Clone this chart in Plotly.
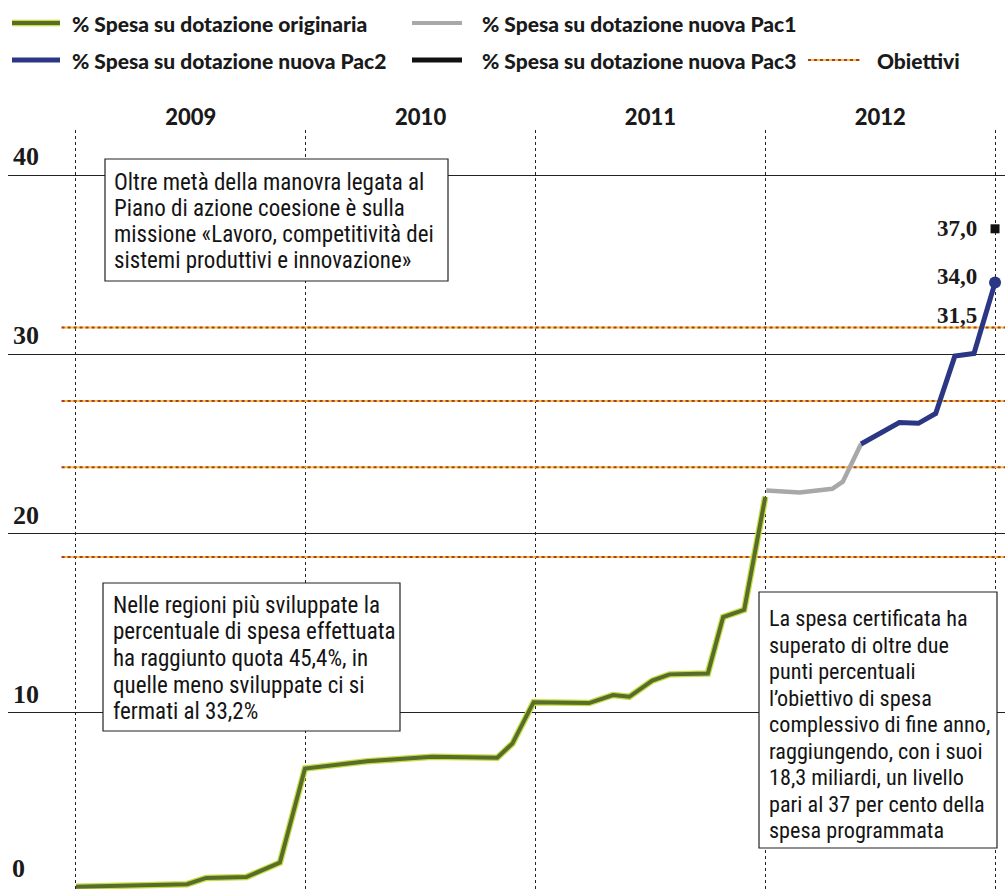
import plotly.graph_objects as go

# ---------------- data (months from Jan 2009, % spesa) ----------------
months_orig = [0, 3, 5.8, 6.8, 8.9, 10.65, 11.96, 15.2, 18.6, 22, 22.8, 23.9, 26.8, 28.05, 28.9, 30.1, 31, 33, 33.8, 34.9, 36]
spesa_orig = [0.3, 0.4, 0.45, 0.8, 0.85, 1.65, 6.9, 7.3, 7.55, 7.5, 8.3, 10.6, 10.55, 11.0, 10.9, 11.8, 12.15, 12.2, 15.35, 15.75, 22.05]
months_pac1 = [36.05, 37.8, 39.5, 40.05, 41.0]
spesa_pac1 = [22.4, 22.3, 22.5, 22.9, 25.0]
months_pac2 = [41.0, 43.0, 44.0, 44.9, 45.9, 46.9, 48]
spesa_pac2 = [25.0, 26.2, 26.15, 26.7, 29.9, 30.05, 34.0]
months_pac3 = [48]
spesa_pac3 = [37.0]
obiettivi = [31.5, 27.4, 23.7, 18.7]
obiettivi_x = [-0.75, 48.6]
year_ticks = [6, 18, 30, 42]
year_labels = ["2009", "2010", "2011", "2012"]
year_bounds = [0, 12, 24, 36, 48]
y_ticks = [10, 20, 30, 40]
end_values = [37.0, 34.0, 31.5]
end_texts = ["37,0", "34,0", "31,5"]

box1_lines = ["Oltre metà della manovra legata al",
              "Piano di azione coesione è sulla",
              "missione «Lavoro, competitività dei",
              "sistemi produttivi e innovazione»"]
box2_lines = ["Nelle regioni più sviluppate la",
              "percentuale di spesa effettuata",
              "ha raggiunto quota 45,4%, in",
              "quelle meno sviluppate ci si",
              "fermati al 33,2%"]
box3_lines = ["La spesa certificata ha",
              "superato di oltre due",
              "punti percentuali",
              "l’obiettivo di spesa",
              "complessivo di fine anno,",
              "raggiungendo, con i suoi",
              "18,3 miliardi, un livello",
              "pari al 37 per cento della",
              "spesa programmata"]

W, H = 1005, 889
ML, MT = 8, 130
X_RANGE = [-3.55, 48.52]
Y_RANGE = [0.18, 42.51]

GREEN = "#566e2a"
LIME = "#c9dc44"
GREY = "#a8a8a8"
BLUE = "#2b3684"
RED = "#b8352a"
YEL = "#e8c935"

def px(x):
    return (x - ML) / (W - ML)

def py(y):
    return (H - y) / (H - MT)

fig = go.Figure()

# objectives
for v in obiettivi:
    fig.add_trace(go.Scatter(x=obiettivi_x, y=[v, v], mode="lines",
                             line=dict(color=YEL, width=2), hoverinfo="skip", showlegend=False))
    fig.add_trace(go.Scatter(x=obiettivi_x, y=[v, v], mode="lines",
                             line=dict(color=RED, width=2, dash="dot"), hoverinfo="skip", showlegend=False))

# original
fig.add_trace(go.Scatter(x=months_orig, y=spesa_orig, mode="lines",
                         line=dict(color=LIME, width=6.5), showlegend=False, hoverinfo="skip"))
fig.add_trace(go.Scatter(x=months_orig, y=spesa_orig, mode="lines",
                         line=dict(color=GREEN, width=4), name="% Spesa su dotazione originaria", showlegend=False))
# Pac1
fig.add_trace(go.Scatter(x=months_pac1, y=spesa_pac1, mode="lines",
                         line=dict(color=GREY, width=4.5), name="% Spesa su dotazione nuova Pac1", showlegend=False))
# Pac2
fig.add_trace(go.Scatter(x=months_pac2, y=spesa_pac2, mode="lines",
                         line=dict(color=BLUE, width=5), name="% Spesa su dotazione nuova Pac2", showlegend=False))
fig.add_trace(go.Scatter(x=months_pac2[-1:], y=spesa_pac2[-1:], mode="markers",
                         marker=dict(color=BLUE, size=12), showlegend=False, hoverinfo="skip"))
# Pac3
fig.add_trace(go.Scatter(x=months_pac3, y=spesa_pac3, mode="markers",
                         marker=dict(color="#111", size=9, symbol="square"),
                         name="% Spesa su dotazione nuova Pac3", showlegend=False))

SERIF = "Liberation Serif, Times New Roman, serif"
serif = dict(family=SERIF, size=26, color="#1a1a1a", weight="bold")
annots = []
# end labels
shifts = [0, 6, 12]
for v, t, s in zip(end_values, end_texts, shifts):
    annots.append(dict(x=48, y=v, xref="x", yref="y", text=t, showarrow=False,
                       xanchor="right", yanchor="middle", xshift=-16, yshift=s,
                       font=dict(family=SERIF, size=23, color="#1a1a1a", weight="bold")))
# "0" label
annots.append(dict(x=px(10), y=py(868), xref="paper", yref="paper", text="0", showarrow=False,
                   xanchor="left", yanchor="middle", font=serif))

# legend
lg = dict(family="Lato, Open Sans, sans-serif", size=21, color="#1a1a1a", weight=900)
leg_items = [
    (23, 70, "% Spesa su dotazione originaria"),
    (23, 480, "% Spesa su dotazione nuova Pac1"),
    (60, 70, "% Spesa su dotazione nuova Pac2"),
    (60, 480, "% Spesa su dotazione nuova Pac3"),
    (60, 875, "Obiettivi"),
]
for (yy, tx, txt) in leg_items:
    annots.append(dict(x=px(tx), y=py(yy), xref="paper", yref="paper", text=txt, showarrow=False,
                       xanchor="left", yanchor="middle", font=lg))

shapes = []
def seg(x0, x1, yy, color, width, dash="solid"):
    shapes.append(dict(type="line", xref="paper", yref="paper", x0=px(x0), x1=px(x1), y0=py(yy), y1=py(yy),
                       line=dict(color=color, width=width, dash=dash)))
seg(12, 60, 23, LIME, 6.5)
seg(12, 60, 23, GREEN, 4)
seg(412, 462, 23, GREY, 4)
seg(12, 60, 60, BLUE, 5)
seg(412, 462, 60, "#111", 5)
seg(808, 860, 60, YEL, 2)
seg(808, 860, 60, RED, 2, "dot")

# text boxes
BOXFAM = "Liberation Sans Narrow, Roboto Condensed, Arial Narrow, Roboto, sans-serif"
def box(x0, x1, y0, y1, tx, ty0, step, lines, size):
    shapes.append(dict(type="rect", xref="paper", yref="paper", layer="above",
                       x0=px(x0), x1=px(x1), y0=py(y0), y1=py(y1),
                       fillcolor="white", line=dict(color="#222", width=1.2)))
    for i, ln in enumerate(lines):
        annots.append(dict(x=px(tx), y=py(ty0 + i * step), xref="paper", yref="paper", text=ln,
                           showarrow=False, xanchor="left", yanchor="middle",
                           font=dict(family=BOXFAM, size=size, color="#141414")))

box(105, 448, 159, 281, 112, 182, 26.1, box1_lines, 23)
box(103, 400, 583, 731, 111, 605, 26.7, box2_lines, 23)
box(759, 997, 592, 848, 767, 618, 26.5, box3_lines, 22.2)

fig.update_layout(
    width=W, height=H,
    margin=dict(l=ML, r=0, t=MT, b=0),
    paper_bgcolor="white", plot_bgcolor="white",
    showlegend=False,
    annotations=annots,
    shapes=shapes,
    xaxis=dict(range=X_RANGE, side="top", tickmode="array", tickvals=year_ticks, ticktext=year_labels,
               showgrid=False, zeroline=False, showline=False, ticks="",
               tickfont=dict(family="Lato, Open Sans, sans-serif", size=22, color="#1a1a1a", weight=900),
               minor=dict(tickmode="array", tickvals=year_bounds, showgrid=True, gridcolor="#222",
                          gridwidth=1, griddash="dot", ticks="")),
    yaxis=dict(range=Y_RANGE, tickmode="array", tickvals=y_ticks, showgrid=True, gridcolor="#222",
               gridwidth=1.2, zeroline=False, showline=False, ticks="",
               ticklabelposition="inside", ticklabelshift=-19, ticklabelstandoff=2,
               tickfont=serif),
)

fig.write_html("out.html", config={"displayModeBar": False},
               post_script="document.body.style.margin='0';")
